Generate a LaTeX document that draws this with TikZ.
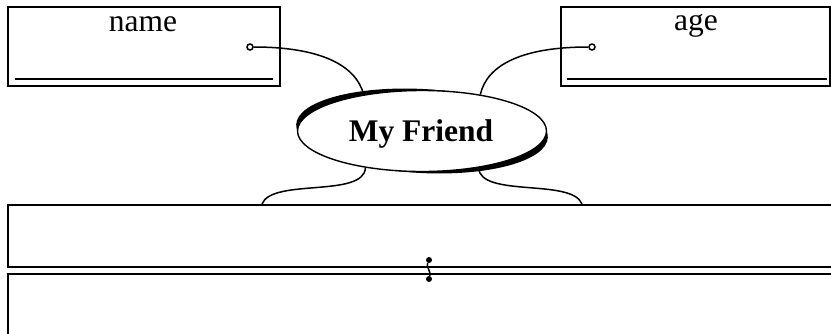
\documentclass[tikz,border=0pt]{standalone}
\usepackage{fontspec}
\setmainfont{Liberation Serif}
\usetikzlibrary{shapes.geometric}
\begin{document}
\begin{tikzpicture}[x=1pt,y=-1pt,
  box/.style={draw,line width=2pt,rectangle,inner sep=0pt,anchor=north west},
  txt/.style={font=\fontsize{31.5}{31.5}\selectfont,inner sep=0pt,anchor=base},
  port/.style={draw,circle,line width=1.5pt,fill=white,inner sep=0pt,minimum size=6pt},
  dot/.style={circle,fill=black,inner sep=0pt,minimum size=6pt},
  wire/.style={line width=1.5pt},
  rule/.style={line width=2pt}]
\useasboundingbox (0,0) rectangle (831,333);
\clip (0,0) rectangle (831,333);
% top boxes
\node[box,minimum width=272pt,minimum height=79pt] (namebox) at (7,6) {};
\node[txt] (nametxt) at (143,31) {name};
\draw[rule] (15,79) -- (273,79);
\node[port] (np) at (250,47) {};
\node[box,minimum width=269pt,minimum height=79pt] (agebox) at (560,6) {};
\node[txt] (agetxt) at (696,30) {age};
\draw[rule] (567,79) -- (827,79);
\node[port] (ap) at (592,47) {};
% central ellipse
\fill[black,rotate around={-3:(422,131)}] (422,131) ellipse (126 and 42);
\node[draw,ellipse,fill=white,line width=1.4pt,minimum width=249pt,minimum height=81pt,inner sep=0pt] (friend) at (422,131) {};
\node[txt,font=\fontsize{31.5}{31.5}\selectfont\bfseries] (friendtxt) at (421,141) {My Friend};
% bottom boxes
\node[box,minimum width=850pt,minimum height=62pt] (box1) at (7,204) {};
\node[box,minimum width=850pt,minimum height=80pt] (box2) at (7,273) {};
% connectors
\draw[wire] (np.east) .. controls (320,47) and (356,65) .. (friend.148);
\draw[wire] (ap.west) .. controls (522,47) and (487,65) .. (friend.32);
\coordinate (bl) at (262,204);
\coordinate (br) at (582,204);
\draw[wire] (friend.213) .. controls (364,198) and (272,178) .. (bl);
\draw[wire] (friend.-33) .. controls (480,198) and (572,178) .. (br);
\node[dot] (d1) at (429,260) {};
\node[dot] (d2) at (429,279) {};
\draw[wire] (d1) .. controls (426,266) and (431,272) .. (d2);
\end{tikzpicture}
\end{document}
